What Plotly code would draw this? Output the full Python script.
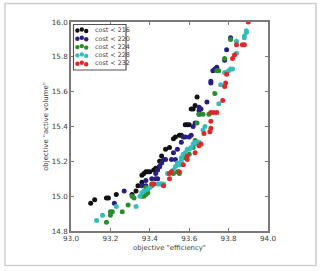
import plotly.graph_objects as go

# ---- data ----
series_names = ["cost < 216", "cost < 220", "cost < 224", "cost < 228", "cost < 232"]
series_colors = ["#111111", "#271f80", "#2a8c2a", "#35bdbd", "#e0282a"]

eff_216 = [93.10, 93.12, 93.18, 93.19, 93.23, 93.31, 93.33, 93.34, 93.36, 93.36, 93.37, 93.38,
           93.39, 93.40, 93.42, 93.43, 93.44, 93.45, 93.45, 93.46, 93.48, 93.50, 93.52, 93.53,
           93.55, 93.56, 93.58, 93.59, 93.60, 93.61, 93.62, 93.63, 93.64]
vol_216 = [14.96, 14.98, 14.99, 14.99, 15.01, 15.01, 15.03, 15.06, 15.08, 15.12, 15.13, 15.14,
           15.14, 15.14, 15.15, 15.16, 15.16, 15.17, 15.20, 15.23, 15.27, 15.28, 15.33, 15.34,
           15.35, 15.35, 15.41, 15.41, 15.41, 15.50, 15.50, 15.52, 15.57]

eff_220 = [93.22, 93.27, 93.36, 93.38, 93.38, 93.41, 93.43, 93.44, 93.43, 93.44, 93.45, 93.46,
           93.47, 93.48, 93.51, 93.53, 93.52, 93.54, 93.56, 93.57, 93.58, 93.60, 93.61, 93.62,
           93.63, 93.65, 93.65, 93.66, 93.65, 93.69, 93.71, 93.71, 93.72, 93.73, 93.74, 93.78,
           93.79, 93.81]
vol_220 = [14.96, 15.03, 15.06, 15.06, 15.09, 15.10, 15.10, 15.10, 15.13, 15.15, 15.17, 15.19,
           15.21, 15.21, 15.21, 15.21, 15.25, 15.27, 15.31, 15.34, 15.34, 15.34, 15.35, 15.40,
           15.42, 15.47, 15.49, 15.50, 15.51, 15.54, 15.65, 15.66, 15.72, 15.73, 15.74, 15.78,
           15.84, 15.91]

eff_224 = [93.18, 93.20, 93.20, 93.21, 93.26, 93.29, 93.31, 93.32, 93.36, 93.37, 93.38, 93.39,
           93.38, 93.41, 93.46, 93.52, 93.54, 93.55, 93.58, 93.60, 93.62, 93.63, 93.64, 93.64,
           93.65, 93.67, 93.70, 93.73, 93.74, 93.75, 93.78, 93.81]
vol_224 = [14.85, 14.89, 14.91, 14.91, 14.91, 14.95, 15.00, 14.99, 15.00, 15.00, 15.01, 15.02,
           15.05, 15.06, 15.07, 15.13, 15.14, 15.13, 15.22, 15.24, 15.28, 15.32, 15.31, 15.42,
           15.47, 15.47, 15.47, 15.59, 15.72, 15.72, 15.79, 15.90]

eff_228 = [93.13, 93.16, 93.23, 93.33, 93.35, 93.36, 93.37, 93.39, 93.40, 93.42, 93.44, 93.45,
           93.47, 93.49, 93.51, 93.52, 93.53, 93.54, 93.55, 93.56, 93.56, 93.57, 93.58, 93.59,
           93.60, 93.61, 93.62, 93.63, 93.64, 93.65, 93.68, 93.67, 93.75, 93.76, 93.78, 93.79,
           93.80, 93.81, 93.82, 93.84, 93.84, 93.88, 93.88, 93.89, 93.89]
vol_228 = [14.86, 14.89, 14.94, 14.94, 15.00, 15.02, 15.03, 15.04, 15.05, 15.07, 15.07, 15.07,
           15.07, 15.13, 15.14, 15.15, 15.17, 15.19, 15.18, 15.20, 15.22, 15.24, 15.25, 15.27,
           15.27, 15.28, 15.30, 15.31, 15.30, 15.31, 15.40, 15.38, 15.53, 15.64, 15.71, 15.71,
           15.72, 15.73, 15.73, 15.82, 15.89, 15.91, 15.92, 15.94, 15.95]

eff_232 = [93.41, 93.42, 93.47, 93.50, 93.50, 93.51, 93.55, 93.57, 93.59, 93.59, 93.63, 93.65,
           93.66, 93.675, 93.705, 93.71, 93.71, 93.71, 93.725, 93.74, 93.77, 93.78, 93.785, 93.79,
           93.82, 93.83, 93.84, 93.87, 93.88, 93.90]
vol_232 = [15.07, 15.07, 15.06, 15.10, 15.13, 15.14, 15.14, 15.18, 15.21, 15.23, 15.25, 15.29,
           15.30, 15.36, 15.37, 15.39, 15.43, 15.48, 15.48, 15.48, 15.55, 15.63, 15.65, 15.70,
           15.79, 15.81, 15.87, 15.87, 15.87, 16.00]

x_series = [eff_216, eff_220, eff_224, eff_228, eff_232]
y_series = [vol_216, vol_220, vol_224, vol_228, vol_232]

x_label = 'objective "efficiency"'
y_label = 'objective "active volume"'

# ---- layout geometry ----
W, H = 321, 271
L, R, T, B = 71, 53, 22, 40
PW, PH = W - L - R, H - T - B


def px(x):
    return (x - L) / PW


def py(y):
    return (H - B - y) / PH


FONT = "DejaVu Sans"
TXT = "#3c3c3c"

fig = go.Figure()
for xs, ys, name, col in zip(x_series, y_series, series_names, series_colors):
    fig.add_trace(go.Scatter(x=xs, y=ys, mode="markers", name=name,
                             marker=dict(size=5, color=col, line=dict(width=0)),
                             showlegend=False))

shapes = []
annotations = []
# outer light frame
shapes.append(dict(type="rect", xref="paper", yref="paper",
                   x0=px(5), x1=px(316), y0=py(265.5), y1=py(3.5),
                   line=dict(color="#cdcdcd", width=1.5), fillcolor="rgba(0,0,0,0)", layer="below"))
# legend box
shapes.append(dict(type="rect", xref="paper", yref="paper",
                   x0=px(73.5), x1=px(126), y0=py(70), y1=py(24.5),
                   line=dict(color="#555555", width=1.2), fillcolor="white", layer="above"))
row_y = [30.2, 38.5, 46.8, 55.1, 63.4]
dot_x = [77.4, 81.8, 86.2]
dot_dy = [0.3, -0.7, 0.8]
for name, col, ry in zip(series_names, series_colors, row_y):
    for dx, dy in zip(dot_x, dot_dy):
        shapes.append(dict(type="circle", xref="paper", yref="paper",
                           xsizemode="pixel", ysizemode="pixel",
                           xanchor=px(dx), yanchor=py(ry + dy),
                           x0=-2.2, x1=2.2, y0=-2.2, y1=2.2,
                           line=dict(width=0), fillcolor=col, layer="above"))
    annotations.append(dict(xref="paper", yref="paper", x=px(92.5), y=py(ry),
                            text=name, showarrow=False, xanchor="left", yanchor="middle",
                            font=dict(family=FONT, size=6.4, color=TXT)))

axis_common = dict(showgrid=False, zeroline=False, showline=True, mirror="ticks",
                   linecolor="#7a7a7a", linewidth=1.6, ticks="inside", ticklen=3,
                   tickcolor="#7a7a7a", tickwidth=1, dtick=0.2, tickformat=".1f",
                   tickfont=dict(family=FONT, size=7.2, color=TXT))

fig.update_layout(
    width=W, height=H, margin=dict(l=L, r=R, t=T, b=B, autoexpand=False),
    paper_bgcolor="white", plot_bgcolor="white",
    xaxis=dict(range=[93.0, 94.0], tick0=93.0,
               title=dict(text=x_label, standoff=3, font=dict(family=FONT, size=6.9, color=TXT)),
               **axis_common),
    yaxis=dict(range=[14.8, 16.0], tick0=14.8,
               title=dict(text=y_label, standoff=2, font=dict(family=FONT, size=6.9, color=TXT)),
               **axis_common),
    shapes=shapes, annotations=annotations, showlegend=False,
)

fig.write_html("out.html")
